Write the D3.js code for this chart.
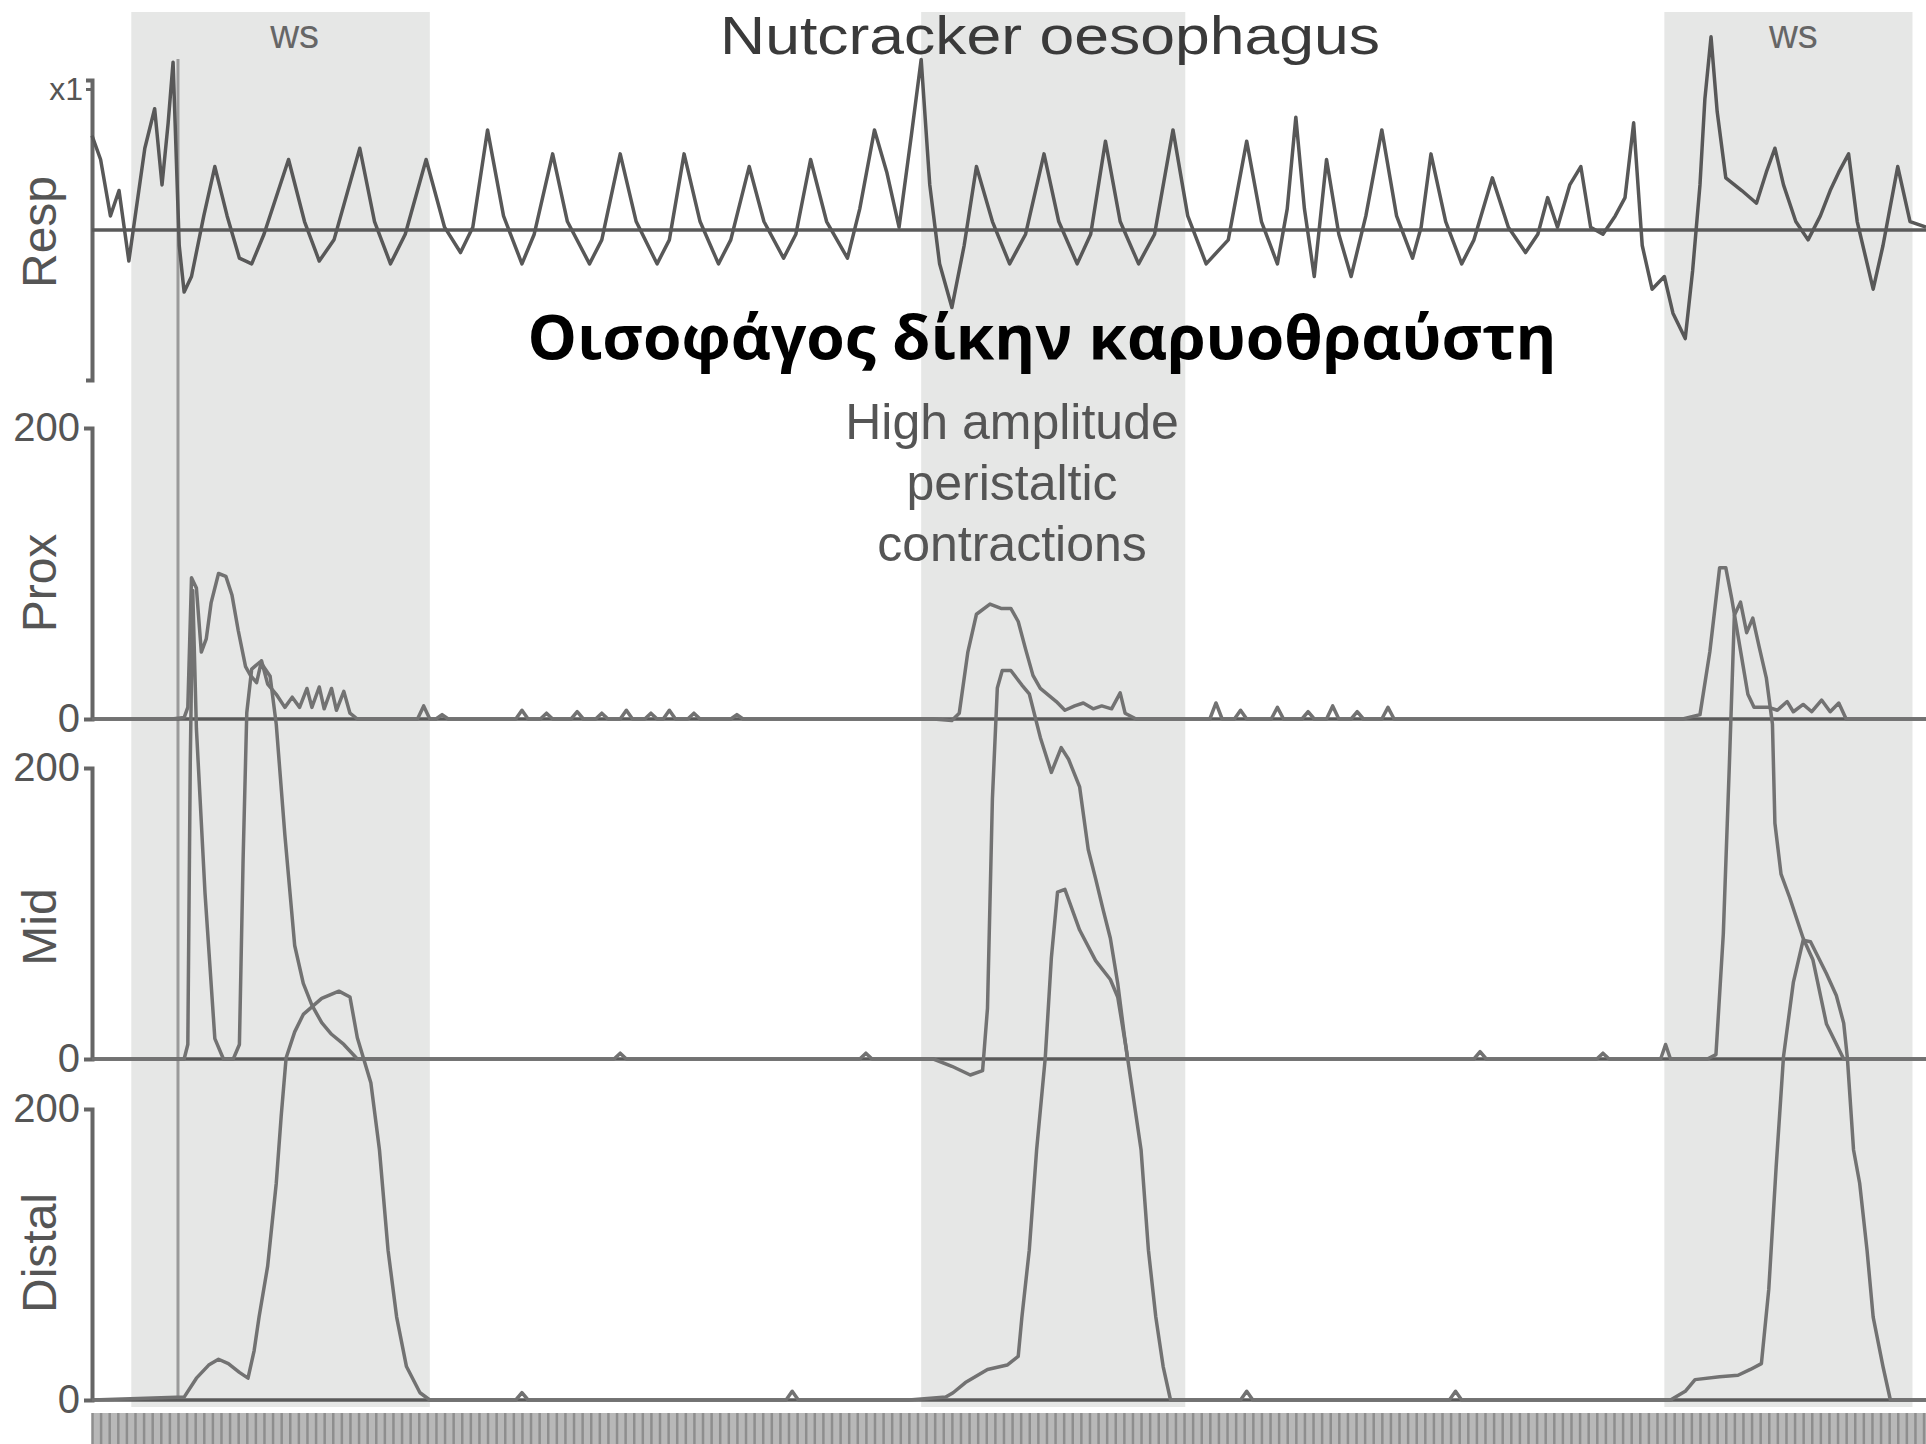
<!DOCTYPE html>
<html>
<head>
<meta charset="utf-8">
<script src="https://cdn.jsdelivr.net/npm/d3@7"></script>
<style>
  body { margin: 0; background: #fff; }
  svg { display: block; }
</style>
</head>
<body>
<svg id="chart" width="1926" height="1444"></svg>
<script>
// time in seconds, resp in arbitrary units (x1), pressures in mmHg
var swallowWindows = [[1.6, 13.75], [33.75, 44.5], [64.0, 74.1]];
var swallowLabels = [[8.25, 'ws'], [69.25, 'ws']];
var eventMarker = 3.5;
var channelNames = ['Resp', 'Prox', 'Mid', 'Distal'];
var pressureTicks = [0, 200];
var respTicks = [1];

var respTrace = [[0,0.67],[0.35,0.5],[0.75,0.1],[1.1,0.28],[1.5,-0.22],[2.15,0.58],[2.55,0.86],[2.85,0.32],[3.1,0.76],[3.3,1.19],[3.55,-0.11],[3.75,-0.44],[4.05,-0.33],[4.55,0.1],[5.0,0.45],[5.5,0.1],[6.0,-0.2],[6.5,-0.24],[7.0,-0.03],[8.0,0.5],[8.65,0.06],[9.25,-0.22],[9.85,-0.07],[10.9,0.58],[11.5,0.06],[12.15,-0.24],[12.75,-0.03],[13.6,0.5],[14.35,0.02],[15.0,-0.16],[15.5,0.02],[16.1,0.71],[16.75,0.1],[17.5,-0.24],[18.0,-0.03],[18.75,0.54],[19.35,0.06],[20.25,-0.24],[20.75,-0.07],[21.5,0.54],[22.15,0.06],[23.0,-0.24],[23.5,-0.07],[24.1,0.54],[24.75,0.06],[25.5,-0.24],[26.0,-0.07],[26.75,0.45],[27.35,0.06],[28.15,-0.2],[28.65,-0.03],[29.25,0.5],[29.9,0.06],[30.75,-0.2],[31.25,0.15],[31.85,0.71],[32.35,0.41],[32.85,0.02],[33.35,0.67],[33.75,1.21],[34.1,0.32],[34.5,-0.24],[35.0,-0.55],[35.5,-0.11],[36.0,0.45],[36.65,0.06],[37.35,-0.24],[38.0,-0.03],[38.75,0.54],[39.35,0.06],[40.1,-0.24],[40.65,-0.03],[41.25,0.63],[41.85,0.06],[42.6,-0.24],[43.25,-0.03],[44.0,0.71],[44.6,0.1],[45.35,-0.24],[46.25,-0.07],[47.0,0.63],[47.6,0.06],[48.25,-0.24],[48.65,0.15],[49.0,0.8],[49.35,0.15],[49.75,-0.33],[50.25,0.5],[50.75,-0.03],[51.25,-0.33],[51.85,0.1],[52.5,0.71],[53.1,0.1],[53.75,-0.2],[54.1,0.02],[54.5,0.54],[55.1,0.06],[55.75,-0.24],[56.25,-0.07],[57.0,0.37],[57.65,0.02],[58.35,-0.16],[58.85,-0.03],[59.25,0.23],[59.65,0.02],[60.15,0.32],[60.6,0.45],[61.0,0.02],[61.5,-0.03],[62.0,0.1],[62.4,0.23],[62.75,0.76],[63.1,-0.11],[63.5,-0.42],[64.0,-0.33],[64.35,-0.59],[64.85,-0.77],[65.15,-0.29],[65.45,0.32],[65.65,0.93],[65.9,1.37],[66.15,0.84],[66.5,0.37],[67.15,0.28],[67.75,0.19],[68.15,0.41],[68.5,0.58],[68.85,0.32],[69.35,0.06],[69.85,-0.07],[70.35,0.1],[70.75,0.28],[71.1,0.41],[71.5,0.54],[71.85,0.06],[72.5,-0.42],[72.9,-0.11],[73.5,0.45],[74.0,0.06],[74.65,0.02]];

var proxTrace = [[0,0],[3.25,0],[3.75,1],[3.9,8],[4.05,97],[4.25,90],[4.45,46],[4.65,55],[4.85,80],[5.15,100],[5.45,98],[5.7,85],[5.95,61],[6.25,36],[6.45,30],[6.7,25],[6.9,40],[7.15,24],[7.5,17],[7.85,8],[8.15,15],[8.45,8],[8.75,21],[8.95,8],[9.25,22],[9.45,7],[9.75,21],[9.95,6],[10.25,19],[10.5,4],[10.8,0],[13.25,0],[13.5,9],[13.75,0],[14.0,0],[14.25,3],[14.5,0],[17.25,0],[17.5,6],[17.75,0],[18.25,0],[18.5,4],[18.75,0],[19.5,0],[19.75,5],[20.0,0],[20.5,0],[20.75,4],[21.0,0],[21.5,0],[21.75,6],[22.0,0],[22.5,0],[22.75,4],[23.0,0],[23.25,0],[23.5,6],[23.75,0],[24.25,0],[24.5,4],[24.75,0],[26.0,0],[26.25,3],[26.5,0],[34.25,0],[35.0,-1],[35.3,4],[35.65,46],[36.0,72],[36.55,79],[37.0,76],[37.4,76],[37.7,67],[38.0,48],[38.3,30],[38.6,21],[39.25,12],[39.6,6],[40.0,9],[40.35,11],[40.75,7],[41.1,9],[41.5,7],[41.85,18],[42.05,4],[42.5,0],[45.5,0],[45.75,11],[46.0,0],[46.5,0],[46.75,6],[47.0,0],[48.0,0],[48.25,8],[48.5,0],[49.25,0],[49.5,5],[49.75,0],[50.25,0],[50.5,9],[50.75,0],[51.25,0],[51.5,5],[51.75,0],[52.5,0],[52.75,8],[53.0,0],[64.75,0],[65.45,3],[65.85,46],[66.25,104],[66.5,104],[66.75,82],[67.15,42],[67.4,17],[67.65,8],[68.25,8],[68.6,6],[69.0,12],[69.25,5],[69.65,10],[70.0,5],[70.4,13],[70.75,5],[71.1,11],[71.4,0],[74.65,0]];

var midTrace = [[0,0],[3.75,0],[3.9,10],[4.0,204],[4.1,322],[4.25,227],[4.6,114],[5.0,14],[5.35,0],[5.75,0],[6.0,10],[6.15,137],[6.3,238],[6.5,268],[6.85,273],[7.25,263],[7.5,230],[7.85,154],[8.25,78],[8.6,52],[8.95,37],[9.35,25],[9.75,17],[10.25,10],[10.8,0],[21.25,0],[21.5,4],[21.75,0],[31.25,0],[31.5,4],[31.75,0],[34.25,0],[35.0,-5],[35.75,-11],[36.25,-8],[36.45,35],[36.65,179],[36.85,255],[37.05,267],[37.4,267],[37.85,257],[38.15,251],[38.6,221],[39.05,197],[39.45,214],[39.75,206],[40.2,187],[40.55,144],[40.85,124],[41.15,103],[41.45,83],[41.75,52],[42.0,19],[42.15,0],[56.25,0],[56.5,5],[56.75,0],[61.25,0],[61.5,4],[61.75,0],[63.85,0],[64.05,10],[64.25,0],[65.75,0],[66.1,3],[66.4,86],[66.65,204],[66.85,305],[67.1,314],[67.35,293],[67.6,303],[67.85,284],[68.15,262],[68.4,230],[68.5,162],[68.75,127],[69.1,111],[69.65,83],[70.05,68],[70.6,24],[71.3,0],[74.65,0]];

var distalTrace = [[0,0],[3.75,2],[4.25,15],[4.75,24],[5.15,28],[5.55,25],[6.0,19],[6.35,15],[6.6,34],[6.8,57],[7.15,92],[7.5,149],[7.7,195],[7.9,235],[8.25,253],[8.6,265],[9.35,276],[10.05,281],[10.5,277],[10.8,249],[11.35,218],[11.7,172],[12.05,103],[12.4,57],[12.8,23],[13.35,5],[13.75,0],[17.25,0],[17.5,5],[17.75,0],[28.25,0],[28.5,6],[28.75,0],[33.25,0],[34.75,2],[35.05,5],[35.55,12],[36.45,21],[37.25,24],[37.7,30],[37.85,57],[38.15,103],[38.45,172],[38.8,235],[39.05,304],[39.3,349],[39.6,351],[40.2,323],[40.85,302],[41.45,289],[41.75,277],[42.1,241],[42.7,172],[43.0,103],[43.3,57],[43.6,23],[43.9,0],[46.75,0],[47.0,6],[47.25,0],[55.25,0],[55.5,6],[55.75,0],[64.25,0],[64.85,6],[65.25,14],[66.25,16],[67.0,17],[67.5,21],[67.95,25],[68.25,76],[68.55,160],[68.85,236],[69.25,287],[69.65,316],[69.95,315],[70.6,293],[71.0,278],[71.3,259],[71.45,235],[71.7,172],[71.95,149],[72.25,103],[72.5,57],[72.9,23],[73.2,0],[74.65,0]];

var svg = d3.select('#chart');
var W = 1926, H = 1444;
var axisX = 92;

var x = d3.scaleLinear().domain([0, 74.65]).range([axisX, W]);
var respY = d3.scaleLinear().domain([-1.064, 1.064]).range([380, 80]);

// pressure panels, each 0-200 mmHg
var panels = [
  { name: 'Prox',   base: 719,  trace: proxTrace,   labelY: 583 },
  { name: 'Mid',    base: 1059, trace: midTrace,    labelY: 927 },
  { name: 'Distal', base: 1400, trace: distalTrace, labelY: 1253 }
];
panels.forEach(function(p) {
  p.y = d3.scaleLinear().domain([0, 200]).range([p.base, p.base - 291]);
});

// shaded swallow windows
svg.append('g').selectAll('rect')
  .data(swallowWindows)
  .enter().append('rect')
  .attr('x', function(d) { return x(d[0]); })
  .attr('y', 12)
  .attr('width', function(d) { return x(d[1]) - x(d[0]); })
  .attr('height', 1395)
  .attr('fill', '#e6e7e6');

// title at the very top
svg.append('text')
  .attr('x', 1050).attr('y', 54)
  .attr('text-anchor', 'middle')
  .attr('textLength', 660)
  .attr('lengthAdjust', 'spacingAndGlyphs')
  .style('font-family', 'Liberation Sans, Arial, sans-serif')
  .style('font-size', '54px')
  .attr('fill', '#3a3a3a')
  .text('Nutcracker oesophagus');

svg.append('g').selectAll('text')
  .data(swallowLabels)
  .enter().append('text')
  .attr('x', function(d) { return x(d[0]); })
  .attr('y', 48)
  .attr('text-anchor', 'middle')
  .style('font-family', 'Liberation Sans, Arial, sans-serif')
  .style('font-size', '40px')
  .attr('fill', '#666')
  .text(function(d) { return d[1]; });

// bottom strip (time marks)
svg.append('rect').attr('x', axisX).attr('y', 1413).attr('width', W - axisX).attr('height', 31).attr('fill', '#b8b8b8');
var timeAxis = svg.append('g')
  .attr('transform', 'translate(0,1413)')
  .call(d3.axisBottom(x).tickValues(d3.range(0, 74.6, 0.35)).tickSize(31).tickFormat(''));
timeAxis.select('.domain').remove();
timeAxis.selectAll('line').attr('stroke', '#8e8e8e').attr('stroke-width', 2.5);

// event marker
svg.append('line')
  .attr('x1', x(eventMarker)).attr('x2', x(eventMarker))
  .attr('y1', 59).attr('y2', 1400)
  .attr('stroke', '#9a9a9a').attr('stroke-width', 3);

// resp channel
var respAxis = svg.append('g')
  .attr('transform', 'translate(' + axisX + ',0)')
  .call(d3.axisLeft(respY).tickValues(respTicks).tickSize(6).tickFormat(function() { return 'x1'; }));
respAxis.select('.domain').attr('stroke', '#666').attr('stroke-width', 4);
respAxis.selectAll('line').attr('stroke', '#666').attr('stroke-width', 3);
respAxis.selectAll('text').style('font-family', 'Liberation Sans, Arial, sans-serif').style('font-size', '32px').attr('fill', '#555');

svg.append('line')
  .attr('x1', axisX).attr('x2', W)
  .attr('y1', respY(0)).attr('y2', respY(0))
  .attr('stroke', '#5a5a5a').attr('stroke-width', 3.5);

var respLine = d3.line().x(function(d) { return x(d[0]); }).y(function(d) { return respY(d[1]); });
svg.append('path')
  .datum(respTrace)
  .attr('d', respLine)
  .attr('fill', 'none')
  .attr('stroke', '#585858')
  .attr('stroke-width', 3.5)
  .attr('stroke-linejoin', 'round');

// pressure channels: axes and baselines first
panels.forEach(function(p) {
  var ax = svg.append('g')
    .attr('transform', 'translate(' + axisX + ',0)')
    .call(d3.axisLeft(p.y).tickValues(pressureTicks).tickSize(8).tickPadding(4));
  ax.select('.domain').attr('stroke', '#666').attr('stroke-width', 4);
  ax.selectAll('line').attr('stroke', '#666').attr('stroke-width', 3);
  ax.selectAll('text').style('font-family', 'Liberation Sans, Arial, sans-serif').style('font-size', '40px').attr('fill', '#555');

  svg.append('line')
    .attr('x1', axisX).attr('x2', W)
    .attr('y1', p.base).attr('y2', p.base)
    .attr('stroke', '#5a5a5a').attr('stroke-width', 3.5);
});

// then traces (they overflow into the panels above)
panels.forEach(function(p) {
  var line = d3.line().x(function(d) { return x(d[0]); }).y(function(d) { return p.y(d[1]); });
  svg.append('path')
    .datum(p.trace)
    .attr('d', line)
    .attr('fill', 'none')
    .attr('stroke', '#727272')
    .attr('stroke-width', 3.5)
    .attr('stroke-linejoin', 'round');
});

// channel labels
var labelYs = [232].concat(panels.map(function(p) { return p.labelY; }));
svg.append('g').selectAll('text')
  .data(channelNames)
  .enter().append('text')
  .attr('transform', function(d, i) { return 'translate(56,' + labelYs[i] + ') rotate(-90)'; })
  .attr('text-anchor', 'middle')
  .style('font-family', 'Liberation Sans, Arial, sans-serif')
  .style('font-size', '48px')
  .attr('fill', '#555')
  .text(function(d) { return d; });

// annotation
var annot = ['High amplitude', 'peristaltic', 'contractions'];
svg.append('g').selectAll('text')
  .data(annot)
  .enter().append('text')
  .attr('x', 1012)
  .attr('y', function(d, i) { return 439 + i * 61; })
  .attr('text-anchor', 'middle')
  .style('font-family', 'Liberation Sans, Arial, sans-serif')
  .style('font-size', '50px')
  .attr('fill', '#555')
  .text(function(d) { return d; });

// Greek caption
svg.append('text')
  .attr('x', 1042).attr('y', 359)
  .attr('text-anchor', 'middle')
  .attr('textLength', 1029)
  .attr('lengthAdjust', 'spacingAndGlyphs')
  .style('font-family', 'Open Sans, Noto Sans, sans-serif')
  .style('font-weight', 'bold')
  .style('font-size', '60px')
  .attr('fill', '#000')
  .text('Οισοφάγος δίκην καρυοθραύστη');
</script>
</body>
</html>
